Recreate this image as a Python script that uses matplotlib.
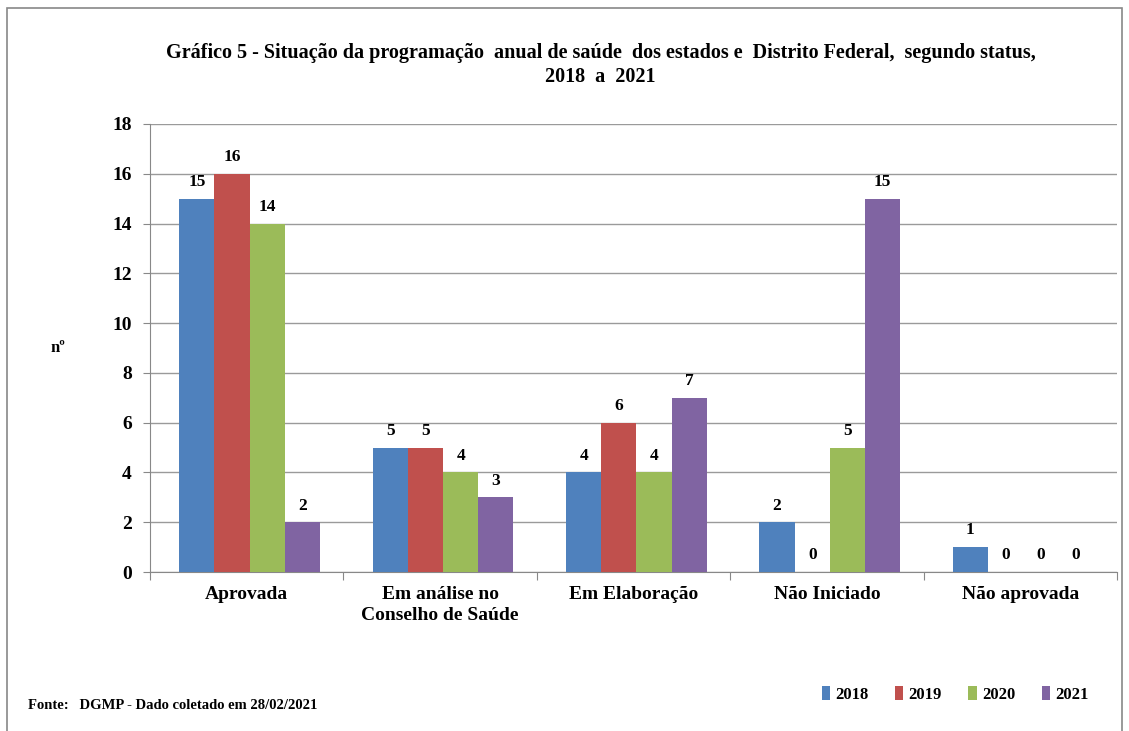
import numpy as np
import matplotlib
matplotlib.use('Agg')
import matplotlib.pyplot as plt
from matplotlib.patches import Rectangle

#Datos
categorias = ['Aprovada', 'Em análise no\nConselho de Saúde', 'Em Elaboração',
              'Não Iniciado', 'Não aprovada']
anos = ['2018', '2019', '2020', '2021']
v2018 = [15, 5, 4, 2, 1]
v2019 = [16, 5, 6, 0, 0]
v2020 = [14, 4, 4, 5, 0]
v2021 = [2, 3, 7, 15, 0]
series = [v2018, v2019, v2020, v2021]
cores = ['#4F81BD', '#C0504D', '#9BBB59', '#8064A2']

plt.rcParams['font.family'] = 'Liberation Serif'
plt.rcParams['font.weight'] = 'bold'

fig = plt.figure(figsize=(11.29, 7.31), dpi=100)
ax = fig.add_axes([0.1329, 0.2175, 0.8565, 0.6129])

# Borde exterior
fig.patches.append(Rectangle((0.006, -0.01), 0.988, 0.999, transform=fig.transFigure,
                             fill=False, ec='#888888', lw=1.2))

x = np.arange(len(categorias))
w = 0.182
for k in range(len(series)):
    pos = x + 0.015 + (k - 1.5) * w
    ax.bar(pos, series[k], w, color=cores[k], label=anos[k], zorder=3)
    for p, v in zip(pos, series[k]):
        ax.text(p, v + 0.35, str(v), ha='center', va='bottom', fontsize=12.5,
                fontweight='bold', zorder=4)

ax.set_xlim(-0.5, len(categorias) - 0.5)
ax.set_ylim(0, 18)
ax.set_yticks(np.arange(0, 19, 2))
ax.yaxis.grid(True, color='#9a9a9a', lw=1, zorder=0)
ax.tick_params(axis='y', labelsize=14, length=5, color='#888888', pad=8)

# Marcas entre categorias
ax.set_xticks(np.arange(-0.5, len(categorias)), minor=False)
ax.set_xticklabels([])
ax.set_xticks(x, minor=True)
ax.set_xticklabels(categorias, minor=True, fontsize=14, fontweight='bold',
                   linespacing=1.35)
ax.tick_params(axis='x', which='major', length=6, color='#888888')
ax.tick_params(axis='x', which='minor', length=0, pad=10)

for s in ['top', 'right']:
    ax.spines[s].set_visible(False)
for s in ['left', 'bottom']:
    ax.spines[s].set_color('#888888')

ax.set_ylabel('nº', rotation=0, fontsize=12, fontweight='bold', va='center')
ax.yaxis.set_label_coords(-0.095, 0.5)

fig.text(0.532, 0.911, 'Gráfico 5 - Situação da programação  anual de saúde  dos estados e  Distrito Federal,  segundo status,\n2018  a  2021',
         ha='center', va='center', fontsize=14.5, fontweight='bold', linespacing=1.25)
fig.text(0.025, 0.035, 'Fonte:   DGMP - Dado coletado em 28/02/2021', fontsize=10.5,
         fontweight='bold', va='center')

fig.legend(loc='center', bbox_to_anchor=(0.846, 0.05), ncol=4, frameon=False,
           prop={'size': 12, 'weight': 'bold'}, handlelength=0.5, handleheight=0.9,
           handletextpad=0.3, columnspacing=1.6)

fig.savefig('out.png', dpi=100)
